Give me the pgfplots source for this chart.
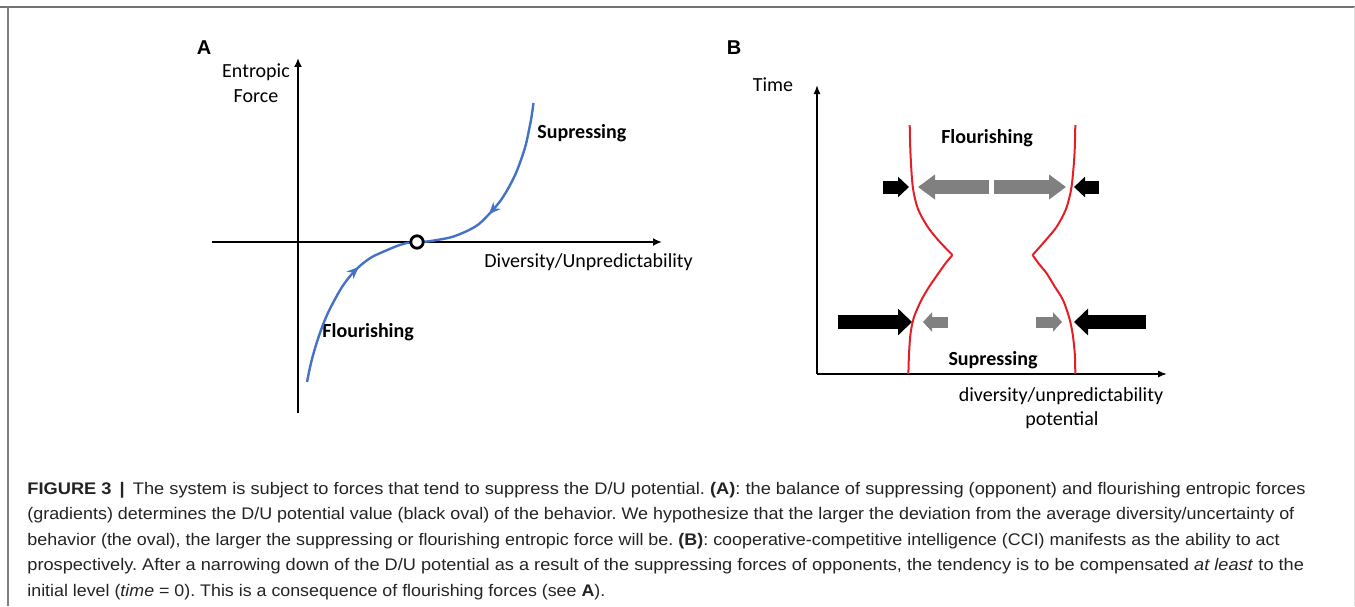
\documentclass[border=0pt]{standalone}
\usepackage{pgfplots}
\pgfplotsset{compat=1.18}
\usepackage{graphicx}
\usepackage{fontspec}
\setmainfont{Carlito}
\newfontfamily\capfont{Liberation Sans}
\usetikzlibrary{arrows.meta,decorations.markings}

\definecolor{curveblue}{RGB}{68,114,196}
\definecolor{potred}{RGB}{228,30,38}
\definecolor{arrgray}{RGB}{128,128,128}
\definecolor{captxt}{RGB}{35,35,35}

\newcommand{\capstyle}{\capfont\fontsize{8.4}{10}\selectfont\color{captxt}}
\newcommand{\lbl}{\fontsize{10}{12}\selectfont}
\newlength\capwd

\begin{document}
\frenchspacing
\settowidth\capwd{\capstyle (gradients) determines the D/U potential value (black oval) of the behavior. We hypothesize that the larger the deviation from the average diversity/uncertainty of}%
\pgfmathsetmacro\capsc{633.5pt/\capwd}%
% per line: small corrections so each line ends where it does in the original
\newcommand\capline[2]{\pgfmathsetmacro\thissc{\capsc*#1}\scalebox{\thissc}[1]{\capstyle #2}}%
\begin{tikzpicture}
\begin{scope}[x=0.5pt,y=-0.5pt]
\useasboundingbox (0,0) rectangle (1355,606);
% frame
\draw[line width=0.8pt, black!55] (0,7) -- (1355,7);
\draw[line width=0.6pt, black!50] (8,7) -- (8,606);
\draw[line width=0.5pt, black!12] (1354,7) -- (1354,606);

% panel A texts
\node[inner sep=0, font=\capfont\bfseries\fontsize{10}{12}\selectfont] at (204,48) {A};
\node[inner sep=0, font=\lbl] at (256,72) {Entropic};
\node[inner sep=0, font=\lbl] at (256,96) {Force};
\node[inner sep=0, anchor=west, font=\lbl\bfseries] at (537,133) {Supressing};
\node[inner sep=0, anchor=west, font=\lbl\bfseries] at (322,332) {Flourishing};
\node[inner sep=0, anchor=west, font=\lbl] at (484,262) {Diversity/Unpredictability};

% panel B texts
\node[inner sep=0, font=\capfont\bfseries\fontsize{10}{12}\selectfont] at (734,48) {B};
\node[inner sep=0, font=\lbl] at (773,85) {Time};
\node[inner sep=0, font=\lbl\bfseries] at (987,138) {Flourishing};
\node[inner sep=0, font=\lbl\bfseries] at (993,360) {Supressing};
\node[inner sep=0, font=\lbl] at (1061,396) {diversity/unpredictability};
\node[inner sep=0, font=\lbl] at (1062,420) {potential};

% caption
\node[inner sep=0, anchor=base west] at (27,494) {\capline{1.019}{\textbf{FIGURE 3 \,|\,} The system is subject to forces that tend to suppress the D/U potential. \textbf{(A)}: the balance of suppressing (opponent) and flourishing entropic forces}};
\node[inner sep=0, anchor=base west] at (27,519.5) {\capline{1}{(gradients) determines the D/U potential value (black oval) of the behavior. We hypothesize that the larger the deviation from the average diversity/uncertainty of}};
\node[inner sep=0, anchor=base west] at (27,545) {\capline{1}{behavior (the oval), the larger the suppressing or flourishing entropic force will be. \textbf{(B)}: cooperative-competitive intelligence (CCI) manifests as the ability to act}};
\node[inner sep=0, anchor=base west] at (27,570.5) {\capline{1.015}{prospectively. After a narrowing down of the D/U potential as a result of the suppressing forces of opponents, the tendency is to be compensated \textit{at least} to the}};
\node[inner sep=0, anchor=base west] at (27,596) {\capline{0.995}{initial level (\textit{time} = 0). This is a consequence of flourishing forces (see \textbf{A}).}};
\end{scope}

% ---- panel A: entropic force vs diversity
\begin{axis}[
  at={(106pt,-206.5pt)}, anchor=south west,
  scale only axis, width=225pt, height=177.5pt,
  xmin=-86, xmax=364, ymin=-171, ymax=184,
  axis lines=middle,
  axis line style={line width=1pt, -{Latex[length=4.5pt,width=4pt]}},
  ticks=none, clip=false,
]
\addplot[curveblue, line width=1.2pt, smooth,
  postaction={decorate},
  decoration={markings,
    mark=at position 0.325 with {\arrow{Stealth[length=6pt,width=5pt]}},
    mark=at position 0.69 with {\arrowreversed{Stealth[length=6pt,width=5pt]}}}]
  coordinates {(9,-140) (11,-130) (14,-117) (18,-103) (23,-88) (29,-73)
    (36,-59) (44,-45) (53,-33) (63,-23) (74,-15) (87,-9) (99,-4) (109,-1)
    (119,0) (129,0.5) (139,2) (154,5) (169,11) (181,18) (193,30) (203,42)
    (211,55) (218,69) (224,85) (228,98) (231,112) (233.5,125) (235.5,139)};
\addplot[only marks, mark=*, mark size=3.1pt,
  mark options={draw=black, fill=white, line width=1.4pt}]
  coordinates {(119,0)};
\end{axis}

% ---- panel B: D/U potential over time
\begin{axis}[
  at={(408.5pt,-187pt)}, anchor=south west,
  scale only axis, width=175pt, height=144.5pt,
  xmin=0, xmax=350, ymin=0, ymax=289,
  axis lines=left,
  axis line style={line width=0.8pt, -{Latex[length=4.5pt,width=3.5pt]}},
  ticks=none, clip=false,
]
% red boundaries
\addplot[potred, line width=1pt, smooth] coordinates {(92.7,249) (93.5,220) (95.8,187) (101,165) (110.8,147) (122,133) (135.4,119)};
\addplot[potred, line width=1pt, smooth] coordinates {(135.4,119) (128,110) (121.6,101) (112,87) (104.4,74) (97,57) (93.6,41) (92,20) (91.4,0)};
\addplot[potred, line width=1pt, smooth] coordinates {(258.3,249) (257.5,220) (254.5,187) (249,165) (239.5,147) (228,133) (215.6,119)};
\addplot[potred, line width=1pt, smooth] coordinates {(215.6,119) (222,110) (229.4,101) (238,87) (246,74) (252,57) (255.5,41) (257.8,20) (258.3,0)};
% top row of forces
\addplot[black, line width=6.5pt, -{Triangle[length=5.5pt,width=10pt]}] coordinates {(66,187) (92,187)};
\addplot[arrgray, line width=6.75pt, -{Triangle[length=8.5pt,width=12pt]}] coordinates {(172,187) (101,187)};
\addplot[arrgray, line width=6.75pt, -{Triangle[length=8.5pt,width=12pt]}] coordinates {(177,187) (249,187)};
\addplot[black, line width=6.5pt, -{Triangle[length=5.5pt,width=10pt]}] coordinates {(282,187) (257,187)};
% bottom row of forces
\addplot[black, line width=7pt, -{Triangle[length=7pt,width=13pt]}] coordinates {(21,52) (95,52)};
\addplot[arrgray, line width=5.5pt, -{Triangle[length=4.5pt,width=9.5pt]}] coordinates {(131,52) (106,52)};
\addplot[arrgray, line width=5.5pt, -{Triangle[length=4.5pt,width=9.5pt]}] coordinates {(219,52) (245,52)};
\addplot[black, line width=7pt, -{Triangle[length=7pt,width=13pt]}] coordinates {(329,52) (257,52)};
\end{axis}
\end{tikzpicture}
\end{document}
